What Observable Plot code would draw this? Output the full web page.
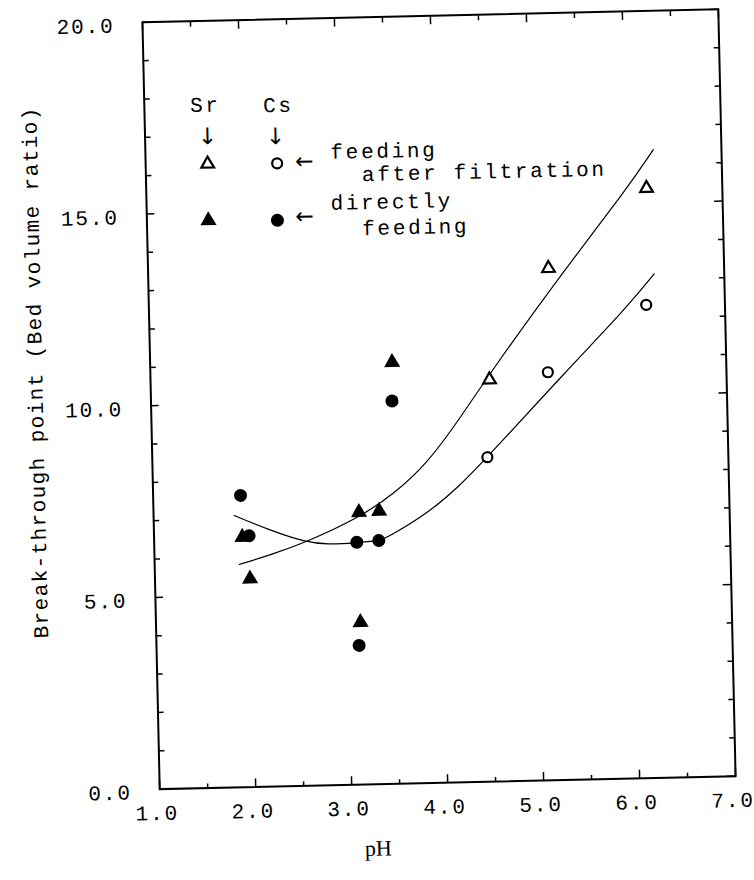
<!DOCTYPE html>
<html>
<head>
<meta charset="utf-8">
<script src="https://cdn.jsdelivr.net/npm/d3@7"></script>
<script src="https://cdn.jsdelivr.net/npm/@observablehq/plot@0.6"></script>
<style>
  html, body { margin: 0; padding: 0; background: #fff; }
  #chart { width: 754px; height: 880px; overflow: hidden; position: relative; }
  #chart svg { display: block; overflow: visible; transform: rotate(-1.29deg); transform-origin: 438.5px 398.75px; }
  #chart svg text { letter-spacing: 1.9px; }
</style>
</head>
<body>
<div id="chart"></div>
<script>
// Break-through point of Sr and Cs versus feed pH
const srAfterPH  = [4.53, 5.17, 6.21];
const srAfterBV  = [10.48, 13.35, 15.38];
const csAfterPH  = [4.49, 5.14, 6.18];
const csAfterBV  = [8.46, 10.64, 12.34];
const srDirectPH = [1.92, 1.99, 3.14, 3.35, 3.13, 3.52];
const srDirectBV = [6.52, 5.43, 7.10, 7.12, 4.23, 10.99];
const csDirectPH = [1.91, 1.99, 3.11, 3.34, 3.11, 3.51];
const csDirectBV = [7.61, 6.55, 6.32, 6.35, 3.63, 9.98];

// hand-fitted trend curves
const srCurvePH = [1.88, 2.21, 2.58, 3.12, 3.51, 3.86, 4.22, 4.53, 5.33, 6.01, 6.29];
const srCurveBV = [5.81, 6.04, 6.35, 6.93, 7.56, 8.32, 9.51, 10.63, 13.28, 15.39, 16.38];
const csCurvePH = [1.84, 2.21, 2.58, 2.80, 3.10, 3.35, 3.43, 3.85, 4.20, 4.49, 5.34, 5.98, 6.27];
const csCurveBV = [7.09, 6.68, 6.35, 6.28, 6.30, 6.35, 6.43, 7.02, 7.74, 8.46, 10.68, 12.29, 13.14];

// axes
const xTicks = [1, 2, 3, 4, 5, 6, 7];
const xMinorTicks = [1.5, 2.5, 3.5, 4.5, 5.5, 6.5];
const yTicks = [0, 5, 10, 15, 20];
const yMinorTicks = [1, 2, 3, 4, 6, 7, 8, 9, 11, 12, 13, 14, 16, 17, 18, 19];
const xTitle = "pH";
const yTitle = "Break-through point (Bed volume ratio)";

// key
const elementNames = ["Sr", "Cs"];
const feedLabels = [["feeding", "after filtration"], ["directly", "feeding"]];

const pts = (xs, ys) => xs.map((x, i) => ({x, y: ys[i]}));
const mono = "Liberation Mono";
const fmt = d => d.toFixed(1);

// a single text or symbol placed relative to the top-left corner of the frame
const keyText = (s, dx, dy, o = {}) =>
  Plot.text([s], {frameAnchor: "top-left", textAnchor: "middle", lineAnchor: "middle", text: d => d, dx, dy,
    fontSize: 21, fontFamily: mono, fill: "#000", ...o});
const keyDot = (dx, dy, o) =>
  Plot.dot([0], {frameAnchor: "top-left", dx, dy, ...o});

const solidTri = {symbol: "triangle", r: 6, fill: "#000", stroke: "none"};
const solidDot = {symbol: "circle", r: 6.5, fill: "#000", stroke: "none"};
const openTri = {symbol: "triangle", r: 4.7, fill: "#fff", stroke: "#000", strokeWidth: 2.2};
const openDot = {symbol: "circle", r: 5, fill: "#fff", stroke: "#000", strokeWidth: 2.2};
const downArrow = {fontFamily: "DejaVu Sans", fontSize: 23};
const leftArrow = {fontFamily: "DejaVu Sans", fontSize: 22};

const tickStyle = {tickFormat: () => "", label: null, strokeWidth: 1.5};

const chart = Plot.plot({
  width: 754,
  height: 880,
  marginLeft: 150.5,
  marginRight: 27.5,
  marginTop: 15.25,
  marginBottom: 97.75,
  style: {fontFamily: mono, background: "#fff", color: "#000"},
  x: {domain: [1, 7]},
  y: {domain: [0, 20]},
  marks: [
    // inward ticks on all four sides
    Plot.axisX(xTicks, {anchor: "bottom", tickSize: -8, ...tickStyle}),
    Plot.axisX(xMinorTicks, {anchor: "bottom", tickSize: -4, ...tickStyle}),
    Plot.axisX(xTicks, {anchor: "top", tickSize: -8, ...tickStyle}),
    Plot.axisX(xMinorTicks, {anchor: "top", tickSize: -5, ...tickStyle}),
    Plot.axisY(yTicks, {anchor: "left", tickSize: -8, ...tickStyle}),
    Plot.axisY(yMinorTicks, {anchor: "left", tickSize: -6, ...tickStyle}),
    Plot.axisY(yTicks, {anchor: "right", tickSize: -9, ...tickStyle}),
    Plot.axisY(yMinorTicks, {anchor: "right", tickSize: -6, ...tickStyle}),
    // tick labels
    Plot.axisX(xTicks, {anchor: "bottom", tickSize: 0, tickPadding: 16, dx: -3, tickFormat: fmt, label: null, fontSize: 21, fontFamily: mono}),
    Plot.axisY(yTicks, {anchor: "left", tickSize: 0, tickPadding: 28, dy: 3, tickFormat: fmt, label: null, fontSize: 21, fontFamily: mono}),
    Plot.frame({stroke: "#000", strokeWidth: 2}),

    // axis titles
    Plot.text([yTitle], {frameAnchor: "left", textAnchor: "middle", text: d => d, rotate: -90, dx: -114.9, dy: -35.9, fontSize: 21, fontFamily: mono}),
    Plot.text([xTitle], {frameAnchor: "bottom", textAnchor: "middle", text: d => d, dx: -70.8, dy: 71.4, fontSize: 22, fontFamily: "Liberation Serif"}),

    // trend curves
    Plot.line(pts(srCurvePH, srCurveBV), {x: "x", y: "y", curve: "basis", stroke: "#000", strokeWidth: 1.2}),
    Plot.line(pts(csCurvePH, csCurveBV), {x: "x", y: "y", curve: "basis", stroke: "#000", strokeWidth: 1.2}),

    // measurements
    Plot.dot(pts(srDirectPH, srDirectBV), {x: "x", y: "y", ...solidTri}),
    Plot.dot(pts(csDirectPH, csDirectBV), {x: "x", y: "y", ...solidDot}),
    Plot.dot(pts(srAfterPH, srAfterBV), {x: "x", y: "y", ...openTri}),
    Plot.dot(pts(csAfterPH, csAfterBV), {x: "x", y: "y", ...openDot}),

    // key
    keyText(elementNames[0], 61, 84),
    keyText(elementNames[1], 134, 86),
    keyText("↓", 62.4, 116, downArrow),
    keyText("↓", 130.4, 117.5, downArrow),
    keyDot(62, 143, openTri),
    keyDot(131.5, 144, openDot),
    keyDot(61.5, 199.6, solidTri),
    keyDot(130.5, 201, solidDot),
    keyText("←", 158.8, 142.7, leftArrow),
    keyText("←", 157.6, 197.7, leftArrow),
    keyText(feedLabels[0][0], 185, 134, {textAnchor: "start"}),
    keyText(feedLabels[0][1], 216, 157, {textAnchor: "start"}),
    keyText(feedLabels[1][0], 184, 185, {textAnchor: "start"}),
    keyText(feedLabels[1][1], 215, 211, {textAnchor: "start"})
  ]
});

// letter spacing of the typewriter texts
const spacing = new Map([[xTitle, 0], [yTitle, 1.4], ["↓", 0], ["←", 0]]);
for (const s of [...elementNames, ...feedLabels.flat()]) spacing.set(s, 2.7);
d3.select(chart).selectAll("text").each(function () {
  const s = spacing.get(this.textContent);
  if (s !== undefined) this.style.letterSpacing = `${s}px`;
});

document.getElementById("chart").append(chart);
</script>
</body>
</html>
